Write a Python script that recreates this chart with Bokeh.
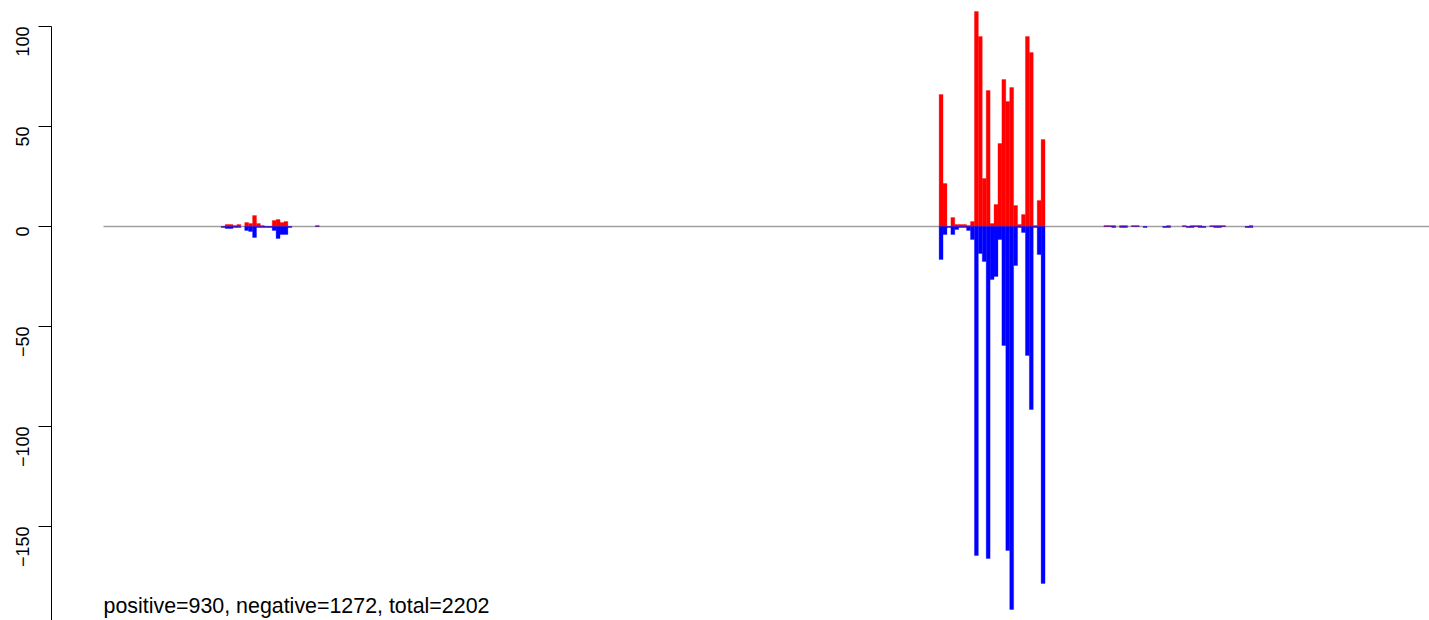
import math
from bokeh.plotting import figure
from bokeh.models import Range1d, LinearAxis, FixedTicker, Label, CustomJSTickFormatter, ColumnDataSource
from bokeh.embed import file_html
from bokeh.resources import INLINE

# ---- data (bin index, positive count, negative count) ----
bins = [30, 31, 32, 33, 34, 36, 37, 38, 39, 40, 41, 42, 43, 44, 45, 46, 47, 54,
        213, 214, 215, 216, 217, 218, 219, 220, 221, 222, 223, 224, 225, 226, 227,
        228, 229, 230, 231, 232, 233, 234, 235, 236, 237, 238, 239,
        255, 256, 257, 259, 260, 262, 263, 265, 270, 271, 275, 276, 277, 278,
        279, 280, 282, 283, 284, 285, 291, 292]
positive = [0, 1, 1, 0.5, 1, 2, 1.5, 5.5, 1.5, 0.5, 0, 0, 3, 3.5, 2, 2.5, 0, 0.5,
            66, 21.5, 0, 4.5, 1, 1, 1, 0.5, 2.5, 107.5, 95, 24, 68, 1.5, 11,
            41.5, 73.5, 62.5, 69.5, 10.5, 1, 6, 95, 87, 0.5, 13, 43.5,
            0.5, 0.5, 0.5, 0.5, 0.5, 0.5, 0.5, 0, 0, 0.5, 0.5, 0, 0.5, 0.5,
            0.5, 0, 0.5, 0.5, 0.5, 0.5, 0, 0.5]
negative = [0.5, 1, 1, 0.5, 0.5, 2, 2.5, 5.5, 0.5, 0.5, 0.5, 0.5, 2, 6, 4, 4, 0.5, 0,
            16.5, 4, 0.5, 4, 1.5, 0.5, 0.5, 2, 6.5, 164.5, 13.5, 17.5, 166, 26.5, 25,
            6.5, 59.5, 162, 191.5, 19.5, 0.5, 3, 64.5, 91.5, 0.5, 14, 178.5,
            0, 0, 0.5, 0.5, 0.5, 0, 0, 0.5, 0.5, 0.5, 0, 0.5, 0.5, 0,
            0.5, 0.5, 0, 0.5, 0.5, 0, 0.5, 0.5]
y_ticks = [-200, -150, -100, -50, 0, 50, 100]
summary = "positive=930, negative=1272, total=2202"
n_bins = 400

src = ColumnDataSource(dict(
    x=[b + 0.5 for b in bins],
    pos=positive,
    neg=[-v for v in negative],
))

FONT = "Liberation Sans"

p = figure(width=1429, height=620, output_backend="svg", toolbar_location=None,
           x_range=Range1d(-13.255, 338.0), y_range=Range1d(-197, 113),
           x_axis_type=None, y_axis_type=None,
           min_border_left=51, min_border_right=0, min_border_top=0, min_border_bottom=0)
p.outline_line_color = None
p.xgrid.visible = False
p.ygrid.visible = False
p.background_fill_color = "white"
p.border_fill_color = "white"

# zero baseline
p.segment(x0=[0], y0=[0], x1=[n_bins], y1=[0], line_color="#A0A0A0", line_width=1.5)

p.vbar(x="x", width=1, top="pos", bottom=0, source=src,
       fill_color="#FF0000", line_color="#FF0000", line_width=0.3)
p.vbar(x="x", width=1, top=0, bottom="neg", source=src,
       fill_color="#0000FF", line_color="#0000FF", line_width=0.3)

yaxis = LinearAxis(ticker=FixedTicker(ticks=y_ticks), bounds=(-200, 100))
yaxis.formatter = CustomJSTickFormatter(code="return tick < 0 ? '\u2212' + Math.abs(tick) : String(tick);")
yaxis.major_label_orientation = math.pi / 2
yaxis.minor_tick_line_color = None
yaxis.major_tick_in = 0
yaxis.major_tick_out = 13
yaxis.major_label_standoff = 16
yaxis.axis_line_color = "black"
yaxis.major_tick_line_color = "black"
yaxis.major_label_text_font = FONT
yaxis.major_label_text_font_size = "18px"
yaxis.major_label_text_color = "black"
p.add_layout(yaxis, "left")

p.add_layout(Label(x=0, y=-189.5, text=summary, text_font=FONT,
                   text_font_size="21.4px", text_color="black",
                   text_baseline="alphabetic", text_align="left"))

open("out.html", "w").write(file_html(p, INLINE))
